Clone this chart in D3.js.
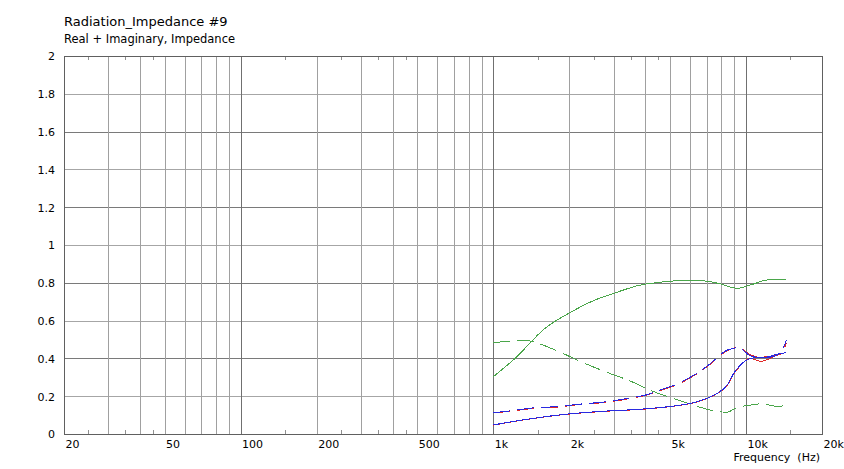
<!DOCTYPE html>
<html>
<head>
<meta charset="utf-8">
<script src="https://cdn.jsdelivr.net/npm/d3@7"></script>
<style>
  html, body { margin: 0; padding: 0; background: #ffffff; }
  svg { display: block; }
  text { font-family: "DejaVu Sans", Verdana, sans-serif; fill: #000; }
</style>
</head>
<body>
<svg id="chart" width="844" height="469"></svg>
<script>
// ---- data ----
const titleText = "Radiation_Impedance #9";
const subtitleText = "Real + Imaginary, Impedance";
const xLabelText = "Frequency  (Hz)";

const xTickValues = [20, 50, 100, 200, 500, 1000, 2000, 5000, 10000, 20000];
const xTickLabels = ["20", "50", "100", "200", "500", "1k", "2k", "5k", "10k", "20k"];
const yTickValues = [0, 0.2, 0.4, 0.6, 0.8, 1, 1.2, 1.4, 1.6, 1.8, 2];
const yTickLabels = ["0", "0.2", "0.4", "0.6", "0.8", "1", "1.2", "1.4", "1.6", "1.8", "2"];
const yMajorGrid = [0.4, 0.8, 1.2, 1.6];
const yMinorGrid = [0.2, 0.6, 1.0, 1.4, 1.8];
const xMajorGrid = [100, 1000, 10000];
const xMinorGrid = [30, 40, 50, 60, 70, 80, 90, 200, 300, 400, 500, 600, 700, 800, 900,
                    2000, 3000, 4000, 5000, 6000, 7000, 8000, 9000];
const xSmallTicks = [25, 35, 45, 150, 250, 350, 450, 1500, 2500, 3500, 4500, 15000];

const greenSolid = [[1000,.303],[1219,.40],[1602,.559],[2042,.647],[2528,.709],[2996,.744],[3820,.788],
  [4449,.801],[5506,.811],[6808,.810],[7926,.794],[9230,.771],[10740,.794],[12134,.815],[14456,.818]];
const greenDashed = [[1000,.485],[1164,.49],[1335,.497],[1462,.485],[1809,.437],[2238,.381],[2768,.330],
  [3530,.277],[4100,.236],[4316,.224],[5506,.175],[6607,.141],[7232,.127],[8428,.115],[9080,.136],
  [10420,.153],[11240,.159],[12134,.155],[12880,.148],[13912,.148],[14456,.153]];
const blueSolid = [[1000,.048],[1376,.079],[1982,.106],[2854,.122],[3820,.131],[5178,.148],[6028,.162],
  [7019,.189],[7692,.215],[8428,.259],[8952,.321],[9510,.365],[10420,.40],[11240,.405],[12134,.407],
  [12880,.418],[14456,.43]];
const blueDashed = [[1000,.113],[1164,.122],[1462,.139],[1809,.145],[2170,.157],[2815,.171],[3420,.189],
  [4100,.210],[4381,.224],[4656,.236],[5420,.268],[5758,.286],[6746,.342],[7190,.370],[8428,.444],
  [8952,.453],[9364,.462],[9800,.441],[10420,.413],[11240,.405],[12134,.405],[12880,.41],[13912,.445],[14456,.495]];
const redSolid = [[1000,.047],[1376,.078],[1982,.105],[2854,.121],[3820,.130],[5178,.147],[6028,.161],
  [7019,.188],[7692,.214],[8428,.257],[8952,.318],[9510,.362],[10420,.40],[10900,.392],[11500,.385],
  [12134,.393],[12880,.41],[14456,.432]];
const redDashed = [[1000,.111],[1164,.120],[1462,.136],[1809,.143],[2170,.155],[2815,.168],[3420,.186],
  [4100,.208],[4381,.221],[4656,.233],[5420,.265],[5758,.283],[6746,.339],[7190,.367],[8428,.441],
  [8952,.455],[9364,.46],[9800,.445],[10420,.418],[11240,.41],[12134,.41],[12880,.412],[13912,.435],[14456,.482]];

// ---- layout ----
const L = 64, R = 822, T = 56, B = 434;
const svg = d3.select("#chart");
const x = d3.scaleLog().domain([20, 20000]).range([L, R]);
const y = d3.scaleLinear().domain([0, 2]).range([B, T]);

// titles
svg.append("text").attr("x", 64).attr("y", 26).style("font-size", "13px").text(titleText);
svg.append("text").attr("x", 64).attr("y", 43).style("font-size", "11.5px").text(subtitleText);

// grid
const g = svg.append("g").attr("shape-rendering", "crispEdges");
g.selectAll("line.yminor").data(yMinorGrid).join("line")
  .attr("x1", L).attr("x2", R).attr("y1", d => Math.round(y(d)) + 0.5).attr("y2", d => Math.round(y(d)) + 0.5)
  .attr("stroke", "#a6a6a6").attr("stroke-width", 1);
g.selectAll("line.ymajor").data(yMajorGrid).join("line")
  .attr("x1", L).attr("x2", R).attr("y1", d => Math.round(y(d)) + 0.5).attr("y2", d => Math.round(y(d)) + 0.5)
  .attr("stroke", "#7a7a7a").attr("stroke-width", 1);
g.selectAll("line.xminor").data(xMinorGrid).join("line")
  .attr("x1", d => Math.round(x(d)) + 0.5).attr("x2", d => Math.round(x(d)) + 0.5).attr("y1", T).attr("y2", B)
  .attr("stroke", "#a0a0a0").attr("stroke-width", 1);
g.selectAll("line.xmajor").data(xMajorGrid).join("line")
  .attr("x1", d => Math.round(x(d)) + 0.5).attr("x2", d => Math.round(x(d)) + 0.5).attr("y1", T).attr("y2", B)
  .attr("stroke", "#707070").attr("stroke-width", 1);
// small ticks top/bottom
g.selectAll("line.tb").data(xSmallTicks).join("line")
  .attr("x1", d => Math.round(x(d)) + 0.5).attr("x2", d => Math.round(x(d)) + 0.5).attr("y1", B - 4).attr("y2", B)
  .attr("stroke", "#909090");
g.selectAll("line.tt").data(xSmallTicks).join("line")
  .attr("x1", d => Math.round(x(d)) + 0.5).attr("x2", d => Math.round(x(d)) + 0.5).attr("y1", T).attr("y2", T + 4)
  .attr("stroke", "#909090");
// frame
svg.append("rect").attr("x", L + 0.5).attr("y", T + 0.5).attr("width", R - L).attr("height", B - T)
  .attr("shape-rendering", "crispEdges")
  .attr("fill", "none").attr("stroke", "#606060").attr("stroke-width", 1);

// axes (labels only)
const xAxis = d3.axisBottom(x).tickValues(xTickValues)
  .tickFormat((d, i) => xTickLabels[i]).tickSize(0).tickPadding(0);
const xa = svg.append("g").attr("transform", `translate(0,${B})`).call(xAxis);
xa.select(".domain").remove();
xa.selectAll("text").attr("text-anchor", "start").attr("dx", 1).attr("dy", 0).attr("y", 14)
  .style("font-size", "11px").style("font-family", "DejaVu Sans").attr("fill", "#000");

const yAxis = d3.axisLeft(y).tickValues(yTickValues)
  .tickFormat((d, i) => yTickLabels[i]).tickSize(0).tickPadding(9);
const ya = svg.append("g").attr("transform", `translate(${L},0)`).call(yAxis);
ya.select(".domain").remove();
ya.selectAll("text").style("font-size", "11px").style("font-family", "DejaVu Sans").attr("fill", "#000")
  .attr("dy", "0.35em");

svg.append("text").attr("x", 820).attr("y", 461).attr("text-anchor", "end")
  .style("font-size", "11px").style("white-space", "pre").attr("xml:space", "preserve").text(xLabelText);

// curves
const line = d3.line().x(d => x(d[0])).y(d => y(d[1])).curve(d3.curveMonotoneX);
const series = [
  { data: greenSolid, color: "#4aa64a", dash: null },
  { data: greenDashed, color: "#4aa64a", dash: "17,7" },
  { data: redSolid, color: "#e02828", dash: null },
  { data: redDashed, color: "#e02828", dash: "17,7" },
  { data: blueSolid, color: "#2a2ae0", dash: null },
  { data: blueDashed, color: "#2a2ae0", dash: "17,7" }
];
svg.append("g").selectAll("path").data(series).join("path")
  .attr("d", d => line(d.data))
  .attr("fill", "none")
  .attr("shape-rendering", "crispEdges")
  .attr("stroke", d => d.color)
  .attr("stroke-width", 1)
  .attr("stroke-dasharray", d => d.dash);
</script>
</body>
</html>
